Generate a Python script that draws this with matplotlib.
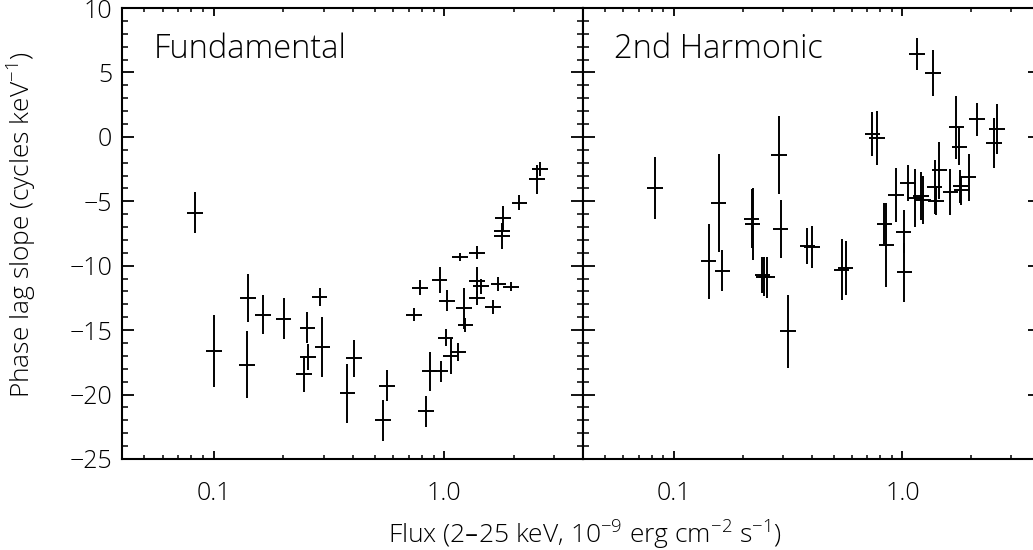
import numpy as np
import matplotlib.pyplot as plt
from matplotlib.ticker import FixedLocator, LogLocator, MultipleLocator, NullFormatter

plt.rcParams['font.family'] = ['Open Sans', 'DejaVu Sans']
plt.rcParams['font.weight'] = 'light'
plt.rcParams['mathtext.default'] = 'regular'

# Fundamental: flux (1e-9 erg/cm2/s), phase lag slope (cycles/keV), error on slope
fund_flux = [0.083, 0.100, 0.139, 0.141, 0.164, 0.201, 0.247, 0.255, 0.257, 0.288,
             0.296, 0.380, 0.405, 0.543, 0.566, 0.739, 0.787, 0.835, 0.864, 0.954,
             0.964, 1.013, 1.027, 1.065, 1.146, 1.173, 1.217, 1.236, 1.390, 1.390,
             1.390, 1.445, 1.633, 1.718, 1.778, 1.782, 1.795, 1.950, 2.12, 2.53, 2.61]
fund_slope = [-5.9, -16.6, -17.7, -12.5, -13.8, -14.1, -18.4, -14.8, -17.1, -12.4,
              -16.3, -19.9, -17.2, -22.0, -19.3, -13.8, -11.7, -21.3, -18.2, -11.1,
              -18.2, -15.6, -12.7, -17.0, -16.7, -9.3, -13.3, -14.6, -9.0, -11.2,
              -12.5, -11.6, -13.2, -11.4, -7.3, -7.7, -6.3, -11.65, -5.1, -3.3, -2.5]
fund_err = [1.6, 2.8, 2.6, 1.85, 1.5, 1.6, 1.4, 1.2, 1.0, 0.7,
            2.3, 2.3, 1.4, 1.6, 1.2, 0.5, 0.6, 1.2, 1.5, 1.0,
            0.8, 0.65, 0.8, 1.4, 0.7, 0.3, 1.6, 0.55, 0.5, 1.1,
            0.55, 0.6, 0.55, 0.55, 0.5, 1.0, 0.9, 0.35, 0.6, 1.1, 0.55]

# 2nd harmonic
harm_flux = [0.0826, 0.142, 0.157, 0.163, 0.219, 0.221, 0.244, 0.248, 0.256, 0.288,
             0.293, 0.315, 0.384, 0.401, 0.542, 0.564, 0.738, 0.776, 0.834, 0.851,
             0.936, 1.013, 1.020, 1.059, 1.132, 1.159, 1.207, 1.231, 1.361, 1.384,
             1.403, 1.451, 1.622, 1.722, 1.775, 1.792, 1.811, 1.950, 2.12, 2.51, 2.59]
harm_slope = [-4.0, -9.65, -5.1, -10.4, -6.35, -6.75, -10.75, -10.85, -10.9, -1.4,
              -7.15, -15.1, -8.5, -8.55, -10.3, -10.2, 0.25, -0.1, -6.75, -8.4,
              -4.5, -7.35, -10.5, -3.6, -4.75, 6.45, -4.6, -4.9, 4.95, -3.9,
              -4.95, -2.6, -4.3, 0.75, -0.75, -3.85, -4.15, -3.15, 1.35, -0.5, 0.6]
harm_err = [2.4, 2.9, 3.8, 1.6, 2.3, 2.8, 1.4, 1.5, 1.6, 3.0,
            2.25, 2.8, 1.4, 1.6, 2.35, 2.1, 1.7, 2.1, 1.6, 3.25,
            2.1, 1.7, 2.3, 1.4, 2.25, 1.25, 1.85, 1.85, 1.8, 2.1,
            1.15, 2.2, 1.8, 2.45, 1.45, 1.3, 1.15, 1.85, 1.3, 1.95, 1.95]

flux_dex = 0.034  # half-width of the flux bars, in log10 units

fig = plt.figure(figsize=(10.33, 5.5), dpi=100)
W, H = 1033.0, 550.0
ax1 = fig.add_axes([122 / W, 91 / H, 461 / W, 451 / H])
ax2 = fig.add_axes([583 / W, 91 / H, 457 / W, 451 / H])


def draw_panel(ax, flux, slope, err, name):
    flux = np.array(flux)
    xlo = flux * (1 - 10 ** -flux_dex)
    xhi = flux * (10 ** flux_dex - 1)
    ax.errorbar(flux, slope, xerr=[xlo, xhi], yerr=err, fmt='none',
                ecolor='black', elinewidth=1.4, capsize=0)
    ax.set_xscale('log')
    ax.set_xlim(0.04, 4.0)
    ax.set_ylim(-25, 10)
    ax.xaxis.set_major_locator(FixedLocator([0.1, 1.0]))
    ax.set_xticklabels(['0.1', '1.0'])
    ax.xaxis.set_minor_locator(LogLocator(base=10, subs=np.arange(2, 10)))
    ax.xaxis.set_minor_formatter(NullFormatter())
    ax.yaxis.set_major_locator(MultipleLocator(5))
    ax.yaxis.set_minor_locator(MultipleLocator(1))
    ax.tick_params(which='both', direction='in', top=True, right=True,
                   color='black', labelsize=18)
    ax.tick_params(axis='y', which='major', length=8.6, width=1.3, pad=7)
    ax.tick_params(axis='y', which='minor', length=4.3, width=1.1)
    ax.tick_params(axis='x', which='major', length=5.8, width=1.3, pad=16)
    ax.tick_params(axis='x', which='minor', length=2.9, width=1.1)
    for s in ax.spines.values():
        s.set_linewidth(1.5)
    ax.text(0.068, 0.89, name, transform=ax.transAxes, fontsize=23.5,
            ha='left', va='baseline')


draw_panel(ax1, fund_flux, fund_slope, fund_err, 'Fundamental')
draw_panel(ax2, harm_flux, harm_slope, harm_err, '2nd Harmonic')
ax2.tick_params(labelleft=False)

fig.text(22 / W, 1 - 225 / H, 'Phase lag slope (cycles keV$^{-1}$)',
         fontsize=19, rotation=90, ha='center', va='center')
fig.text(585 / W, 1 - 535 / H,
         'Flux (2\u201325 keV, 10$^{-9}$ erg cm$^{-2}$ s$^{-1}$)',
         fontsize=19, ha='center', va='center')

fig.savefig('out.png', dpi=100)
